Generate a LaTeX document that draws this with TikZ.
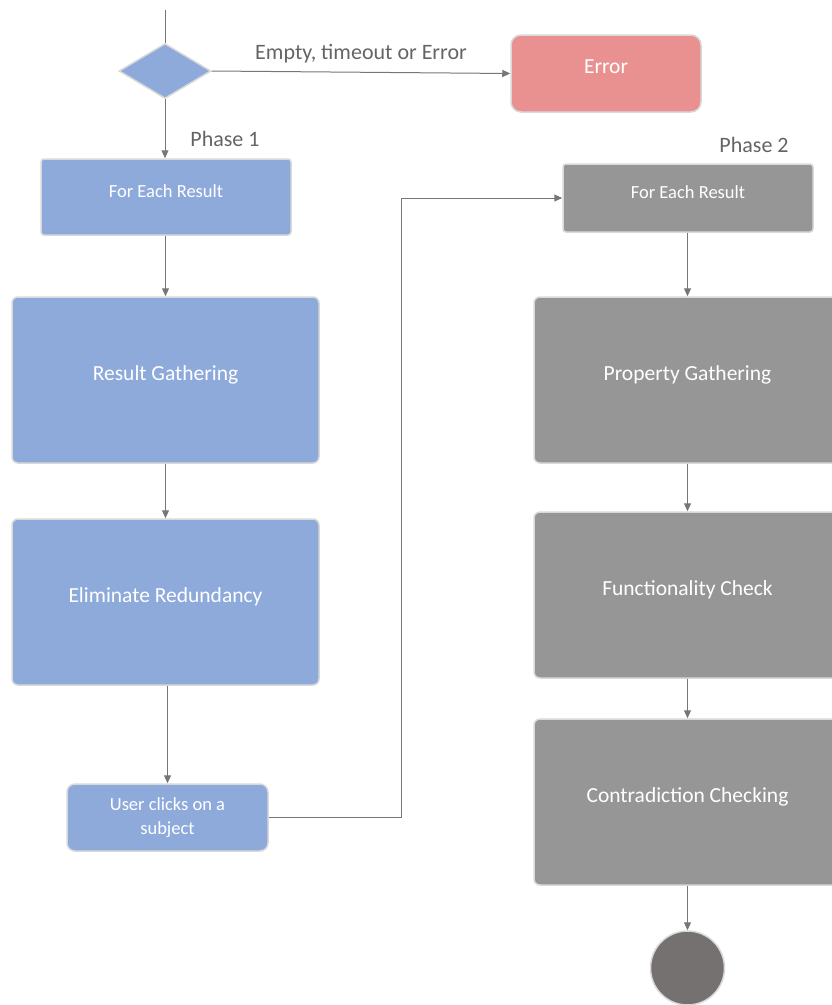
\documentclass[tikz,border=0pt]{standalone}
\usepackage{fontspec}
\setmainfont{Carlito}
\usetikzlibrary{arrows.meta,shapes.geometric}

\definecolor{boxblue}{RGB}{142,170,219}
\definecolor{boxgray}{RGB}{150,150,150}
\definecolor{boxred}{RGB}{233,145,145}
\definecolor{endgray}{RGB}{117,113,113}
\definecolor{edgegray}{RGB}{217,217,217}
\definecolor{linegray}{RGB}{118,118,118}
\definecolor{txtgray}{RGB}{100,100,100}

\begin{document}
\begin{tikzpicture}[x=1pt, y=-1pt,
  every node/.style={font=\fontsize{18.5}{24}\selectfont, text=white},
  box/.style={draw=edgegray, line width=1.5pt, rounded corners=3pt, inner sep=0pt},
  oneline/.style={text height=0.7em, text depth=0.66em},
  bigbox/.style={box, oneline, minimum width=307pt, minimum height=166pt, rounded corners=6pt, font=\fontsize{21.5}{26}\selectfont},
  lbl/.style={text=txtgray, font=\fontsize{22}{26}\selectfont},
  arr/.style={draw=linegray, line width=1pt, -{Triangle[length=8pt,width=7pt]}}]
\useasboundingbox (0,0) rectangle (831,1005);

% left column
\coordinate (start) at (165,10);
\node[draw=edgegray, line width=1.5pt, fill=boxblue, diamond, inner sep=0pt, minimum width=92pt, minimum height=55pt] (dec) at (165,71) {};
\node[box, oneline, fill=boxred, minimum width=190pt, minimum height=77pt, rounded corners=10pt, font=\fontsize{21.5}{26}\selectfont] (err) at (606,73.5) {Error};
\node[box, oneline, fill=boxblue, minimum width=250pt, minimum height=76pt] (feach1) at (166,197) {For Each Result};
\node[bigbox, fill=boxblue] (gather) at (165.5,380) {Result Gathering};
\node[bigbox, fill=boxblue] (elim) at (165.5,602) {Eliminate Redundancy};
\node[box, fill=boxblue, minimum width=201pt, minimum height=67pt, rounded corners=8pt, align=center] (user) at (167.5,817.5) {User clicks on a\\subject};

\node[lbl] (ph1) at (225,139) {Phase 1};

% right column
\node[box, oneline, fill=boxgray, minimum width=250pt, minimum height=68pt] (feach2) at (688,198) {For Each Result};
\node[bigbox, fill=boxgray] (prop) at (687.5,380) {Property Gathering};
\node[bigbox, fill=boxgray] (func) at (687.5,595) {Functionality Check};
\node[bigbox, fill=boxgray] (contra) at (687.5,802) {Contradiction Checking};
\node[draw=edgegray, line width=1.5pt, fill=endgray, circle, inner sep=0pt, minimum size=74pt] (stop) at (687.5,968) {};

\node[lbl] (ph2) at (754,145) {Phase 2};

\coordinate (bend) at (401,817.5);

\draw[draw=linegray, line width=1pt] (start) -- (dec.north);
\draw[arr] (dec.east) -- node[lbl, above=5pt] (elbl) {Empty, timeout or Error} (err.west);
\draw[arr] (dec.south) -- (dec.south |- feach1.north);
\draw[arr] (feach1.south -| gather.north) -- (gather.north);
\draw[arr] (gather) -- (elim);
\draw[arr] (elim.south -| user.north) -- (user.north);
\draw[arr] (user.east) -- (bend) |- (feach2.west);
\draw[arr] (feach2.south -| prop.north) -- (prop.north);
\draw[arr] (prop) -- (func);
\draw[arr] (func) -- (contra);
\draw[arr] (contra) -- (stop);

\end{tikzpicture}
\end{document}
